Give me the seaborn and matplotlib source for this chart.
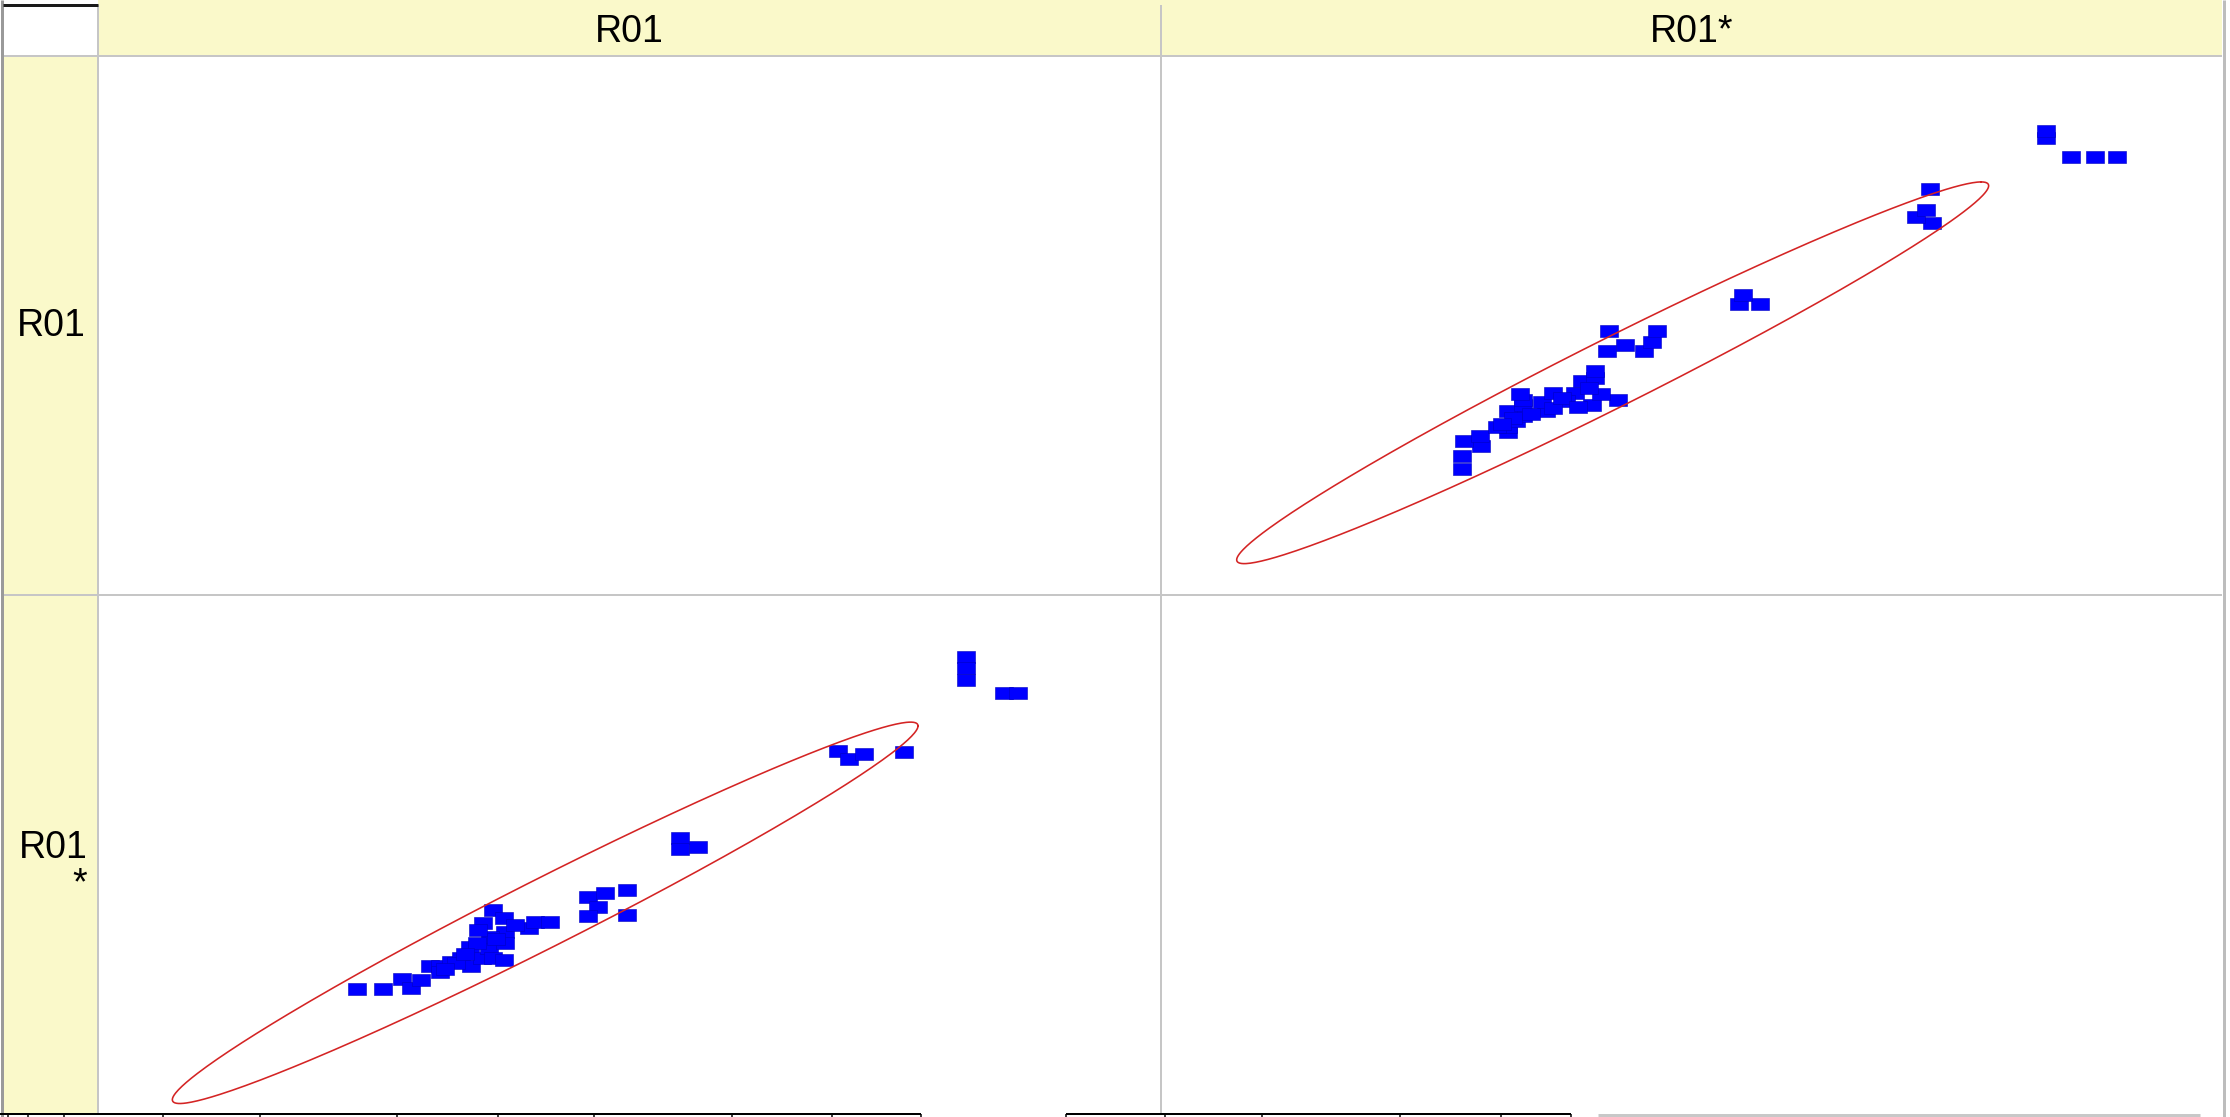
import numpy as np
import pandas as pd
import matplotlib
matplotlib.use("Agg")
import matplotlib.pyplot as plt
import seaborn as sns

# values (no tick labels shown, so units are arbitrary)
r01 = [26.1, 28.5, 30.2, 31.1, 32.0, 32.8, 33.7, 33.7, 34.7, 35.7, 36.5,
       36.6, 37.6, 38.2, 37.7, 38.6, 39.6, 39.7, 39.7, 38.6, 39.6, 41.9,
       42.5, 43.8, 47.3, 48.9, 48.3, 47.3, 50.9, 50.9, 38.3, 37.1,
       35.2, 36.0, 38.9, 40.6, 37.2, 34.2,
       55.8, 55.8, 57.4, 70.3, 71.3, 72.7, 76.4, 82.1, 82.1, 82.1, 85.6, 86.9]
r01_star = [24.0, 24.0, 25.9, 24.2, 25.8, 28.5, 28.5, 27.4, 29.3, 30.0, 32.2,
            28.5, 30.0, 31.9, 36.8, 39.3, 37.7, 35.1, 32.9, 30.0, 29.7, 35.8,
            37.1, 37.1, 41.9, 42.7, 40.0, 38.2, 43.2, 38.4, 34.2, 32.9,
            29.0, 30.8, 33.8, 36.5, 35.4, 27.9,
            53.3, 51.2, 51.6, 70.2, 68.6, 69.6, 70.0, 88.4, 86.2, 83.9, 81.4, 81.4]
var_names = ["R01", "R01*"]

# 95% density ellipse (mean, sd, correlation)
ell_mean = {"R01": 43.4, "R01*": 38.8}
ell_sd = {"R01": 14.0, "R01*": 15.1}
ell_corr = 0.980
ell_level = 0.95

df = pd.DataFrame({"R01": r01, "R01*": r01_star})

# ellipse outline
t = np.linspace(0, 2 * np.pi, 400)
k = np.sqrt(-2 * np.log(1 - ell_level))
ell = pd.DataFrame({
    "R01": ell_mean["R01"] + k * ell_sd["R01"] * np.cos(t),
    "R01*": ell_mean["R01*"] + k * ell_sd["R01*"] * (ell_corr * np.cos(t) + np.sqrt(1 - ell_corr**2) * np.sin(t)),
})

sns.set_style("white")
plt.rcParams['font.family'] = ['Liberation Sans', 'DejaVu Sans']
plt.rcParams['text.color'] = 'black'

W, H = 2230, 1117
fig = plt.figure(figsize=(W / 100, H / 100), dpi=100)

# cell layout in pixels
col_edges = [98, 1161, 2222]
row_edges = [57, 595, 1113]
xlims = {"R01": (2.3, 100.0), "R01*": (-5.6, 98.7)}    # per column
ylims = {"R01": (3.5, 100.1), "R01*": (0.0, 100.4)}    # per row

yellow = "#FAF9CA"
grid = "#C6C6C6"
px = 0.72  # one pixel in points

# background frame in pixel coords
frame = fig.add_axes([0, 0, 1, 1], zorder=0)
frame.set_xlim(0, W)
frame.set_ylim(H, 0)
frame.axis("off")
frame.add_patch(plt.Rectangle((col_edges[0], 0), col_edges[2] - col_edges[0], row_edges[0], color=yellow, lw=0))
frame.add_patch(plt.Rectangle((3, row_edges[0]), col_edges[0] - 3, row_edges[2] - row_edges[0], color=yellow, lw=0))

frame.hlines([row_edges[0] - 1, row_edges[1]], 3, col_edges[2], color=grid, lw=2 * px)
frame.vlines([col_edges[0], col_edges[1]], 5, row_edges[2], color=grid, lw=2 * px)
frame.vlines(col_edges[2] + 1.5, 0, H, color="#BDBDBD", lw=3 * px)
frame.vlines(1.5, 0, H, color="#9A9A9A", lw=3 * px)
frame.hlines(5, 3, col_edges[0], color="#1A1A1A", lw=3 * px)

# fragment of the axis strip along the bottom edge
frame.hlines(row_edges[2] + 1, 0, 921, color="black", lw=2 * px)
frame.hlines(row_edges[2] + 1, 1066, 1571, color="black", lw=2 * px)
frame.hlines(row_edges[2] + 2, 1598, 2200, color="#C8C8C8", lw=3 * px)
strip_ticks = [8, 28, 64, 163, 260, 397, 498, 594, 732, 832, 921,
               1066, 1165, 1262, 1400, 1501, 1571]
frame.vlines(strip_ticks, row_edges[2] + 1, H, color="black", lw=1.5 * px)

# header and row labels
for i, name in enumerate(var_names):
    cx = (col_edges[i] + col_edges[i + 1]) / 2
    frame.text(cx, (5 + row_edges[0]) / 2 + 1, name, ha="center", va="center", fontsize=27)
frame.text(51, (row_edges[0] + row_edges[1]) / 2, "R01", ha="center", va="center", fontsize=27)
frame.text(53, (row_edges[1] + row_edges[2]) / 2 + 12, "R01\n*", ha="center", va="center",
           multialignment="right", fontsize=27, linespacing=1.0)

# rectangular markers, 18x12 px
rect = [(-1.5, -1), (1.5, -1), (1.5, 1), (-1.5, 1), (-1.5, -1)]

for r, yvar in enumerate(var_names):
    for c, xvar in enumerate(var_names):
        x0, x1 = col_edges[c], col_edges[c + 1]
        y0, y1 = row_edges[r], row_edges[r + 1]
        ax = fig.add_axes([x0 / W, 1 - y1 / H, (x1 - x0) / W, (y1 - y0) / H], zorder=2)
        ax.patch.set_alpha(0)
        ax.set_xlim(*xlims[xvar])
        ax.set_ylim(*ylims[yvar])
        ax.set_xticks([])
        ax.set_yticks([])
        for s in ax.spines.values():
            s.set_visible(False)
        if xvar == yvar:
            continue
        ax.plot(ell[xvar], ell[yvar], color="#D42424", lw=1.6 * px)
        sns.scatterplot(data=df, x=xvar, y=yvar, ax=ax, marker=rect, s=175,
                        color="#0000FF", edgecolor="#0000C0", linewidth=0.4, legend=False)
        ax.set_xlabel("")
        ax.set_ylabel("")

fig.savefig("out.png", dpi=100, facecolor="white")
